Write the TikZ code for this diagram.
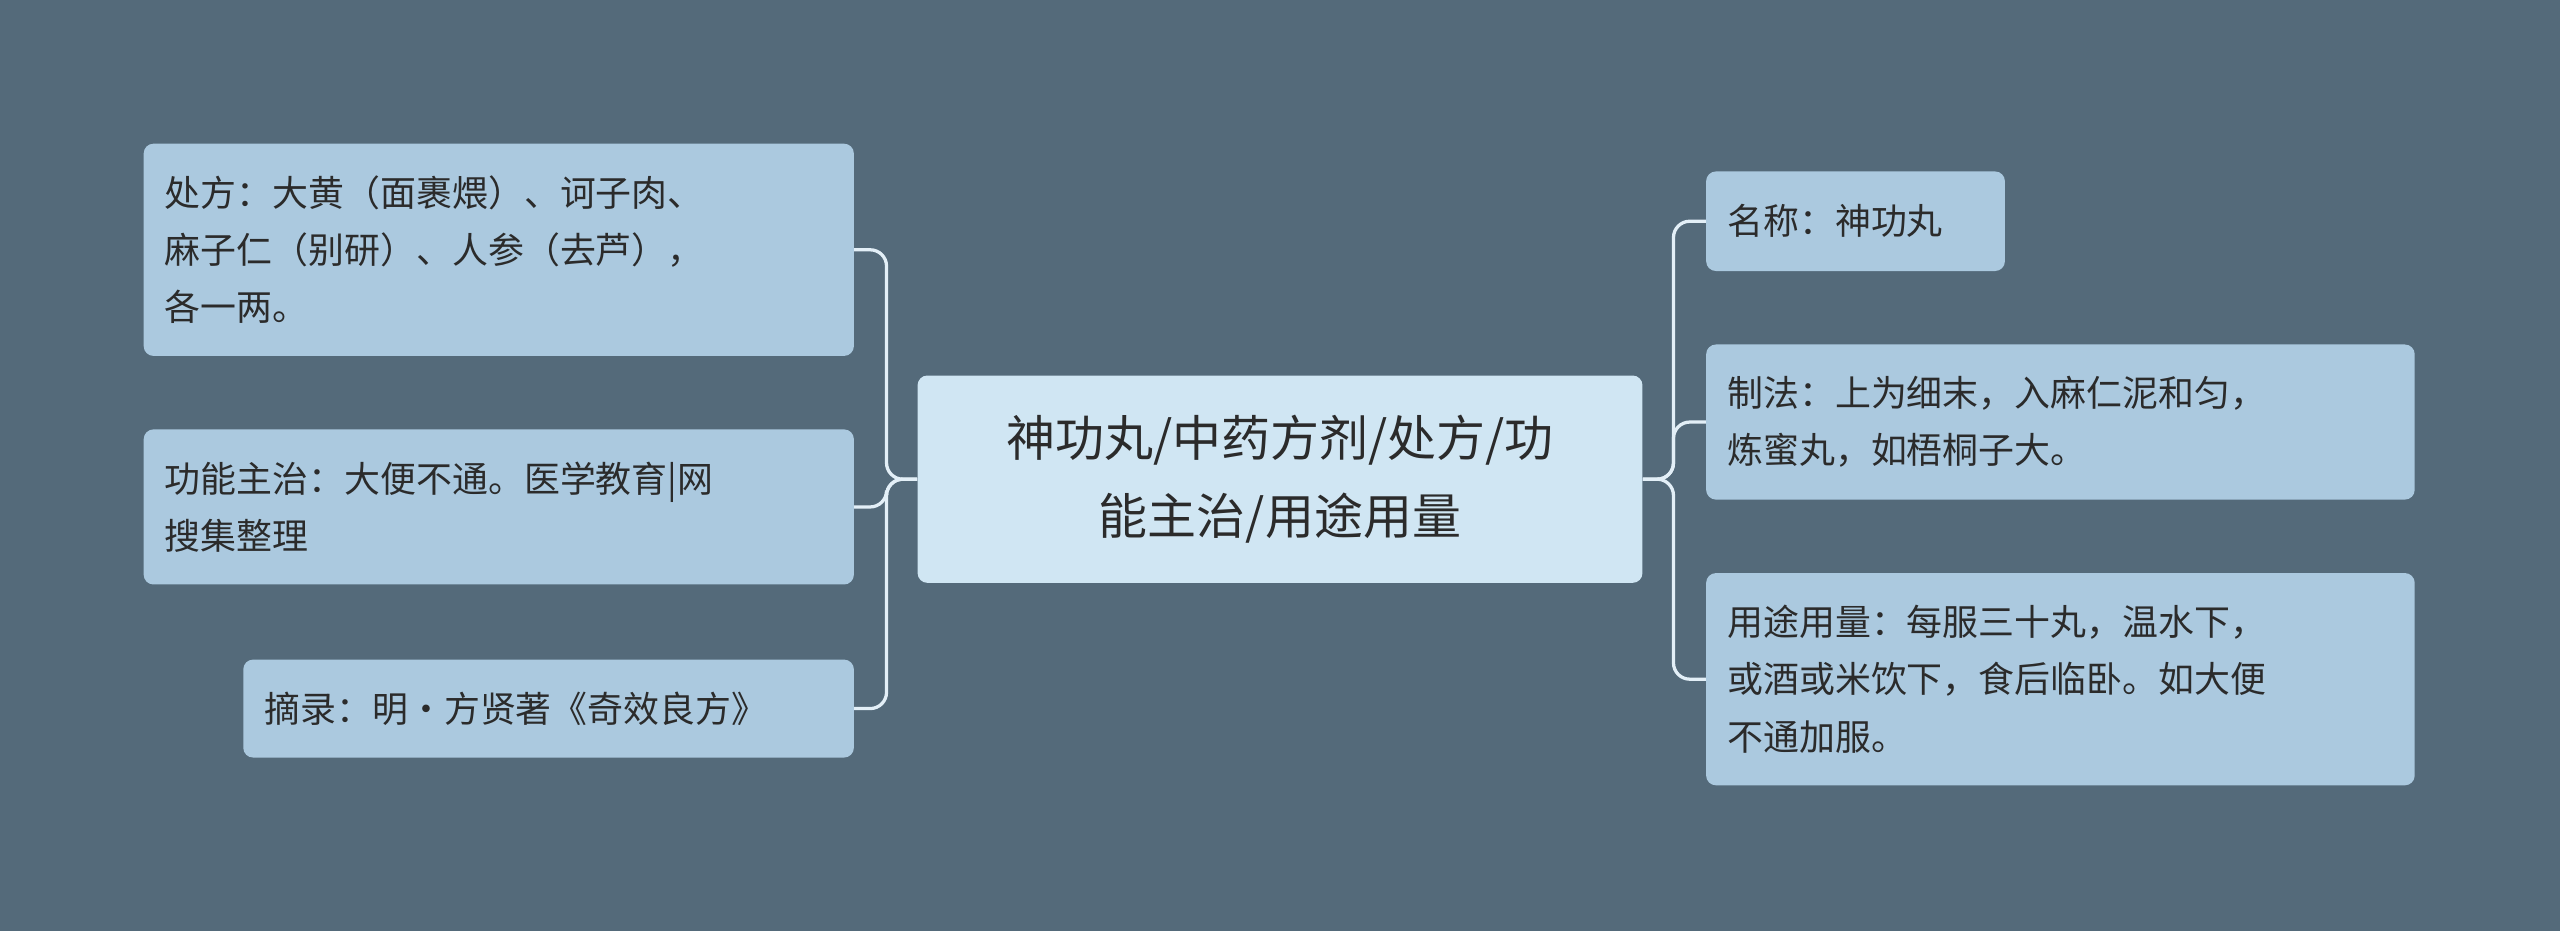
\documentclass[tikz,border=0pt]{standalone}
\usepackage{fontspec}
\setmainfont{Noto Sans CJK SC}
\begin{document}
\begin{tikzpicture}[x=1pt,y=-1pt,
  leaf/.style={fill=leafc,rounded corners=6pt,inner xsep=13pt,inner ysep=0pt,align=left,font=\fontsize{22}{35}\selectfont,text=textc},
  conn/.style={draw=linec,line width=2pt,rounded corners=10pt}]
\definecolor{bgc}{HTML}{546A7A}
\definecolor{leafc}{HTML}{ABC9DF}
\definecolor{cenc}{HTML}{D0E6F3}
\definecolor{linec}{HTML}{E3EFF7}
\definecolor{textc}{HTML}{2B2B2B}
\fill[bgc] (0,0) rectangle (1568,570);
\useasboundingbox (0,0) rectangle (1568,570);
\node[fill=cenc,rounded corners=6pt,minimum width=444pt,minimum height=127pt,align=center,font=\fontsize{30}{48}\selectfont,text=textc] (c) at (784,293.5) {神功丸/中药方剂/处方/功\\能主治/用途用量};
\node[leaf,text width=409pt,minimum height=130pt] (l1) at (305.5,153) {处方：大黄（面裹煨）、诃子肉、\\麻子仁（别研）、人参（去芦），\\各一两。};
\node[leaf,text width=409pt,minimum height=95pt] (l2) at (305.5,310.5) {功能主治：大便不通。医学教育|网\\搜集整理};
\node[leaf,text width=348pt,minimum height=60pt] (l3) at (336,434) {摘录：明·方贤著《奇效良方》};
\node[leaf,text width=157pt,minimum height=61pt] (r1) at (1136.5,135.5) {名称：神功丸};
\node[leaf,text width=408pt,minimum height=95pt] (r2) at (1262,258.5) {制法：上为细末，入麻仁泥和匀，\\炼蜜丸，如梧桐子大。};
\node[leaf,text width=408pt,minimum height=130pt] (r3) at (1262,416) {用途用量：每服三十丸，温水下，\\或酒或米饮下，食后临卧。如大便\\不通加服。};
\draw[conn] (c.west) -- (543,293.5) |- (l1.east);
\draw[conn] (c.west) -- (543,293.5) |- (l2.east);
\draw[conn] (c.west) -- (543,293.5) |- (l3.east);
\draw[conn] (c.east) -- (1025,293.5) |- (r1.west);
\draw[conn] (c.east) -- (1025,293.5) |- (r2.west);
\draw[conn] (c.east) -- (1025,293.5) |- (r3.west);
\end{tikzpicture}
\end{document}
